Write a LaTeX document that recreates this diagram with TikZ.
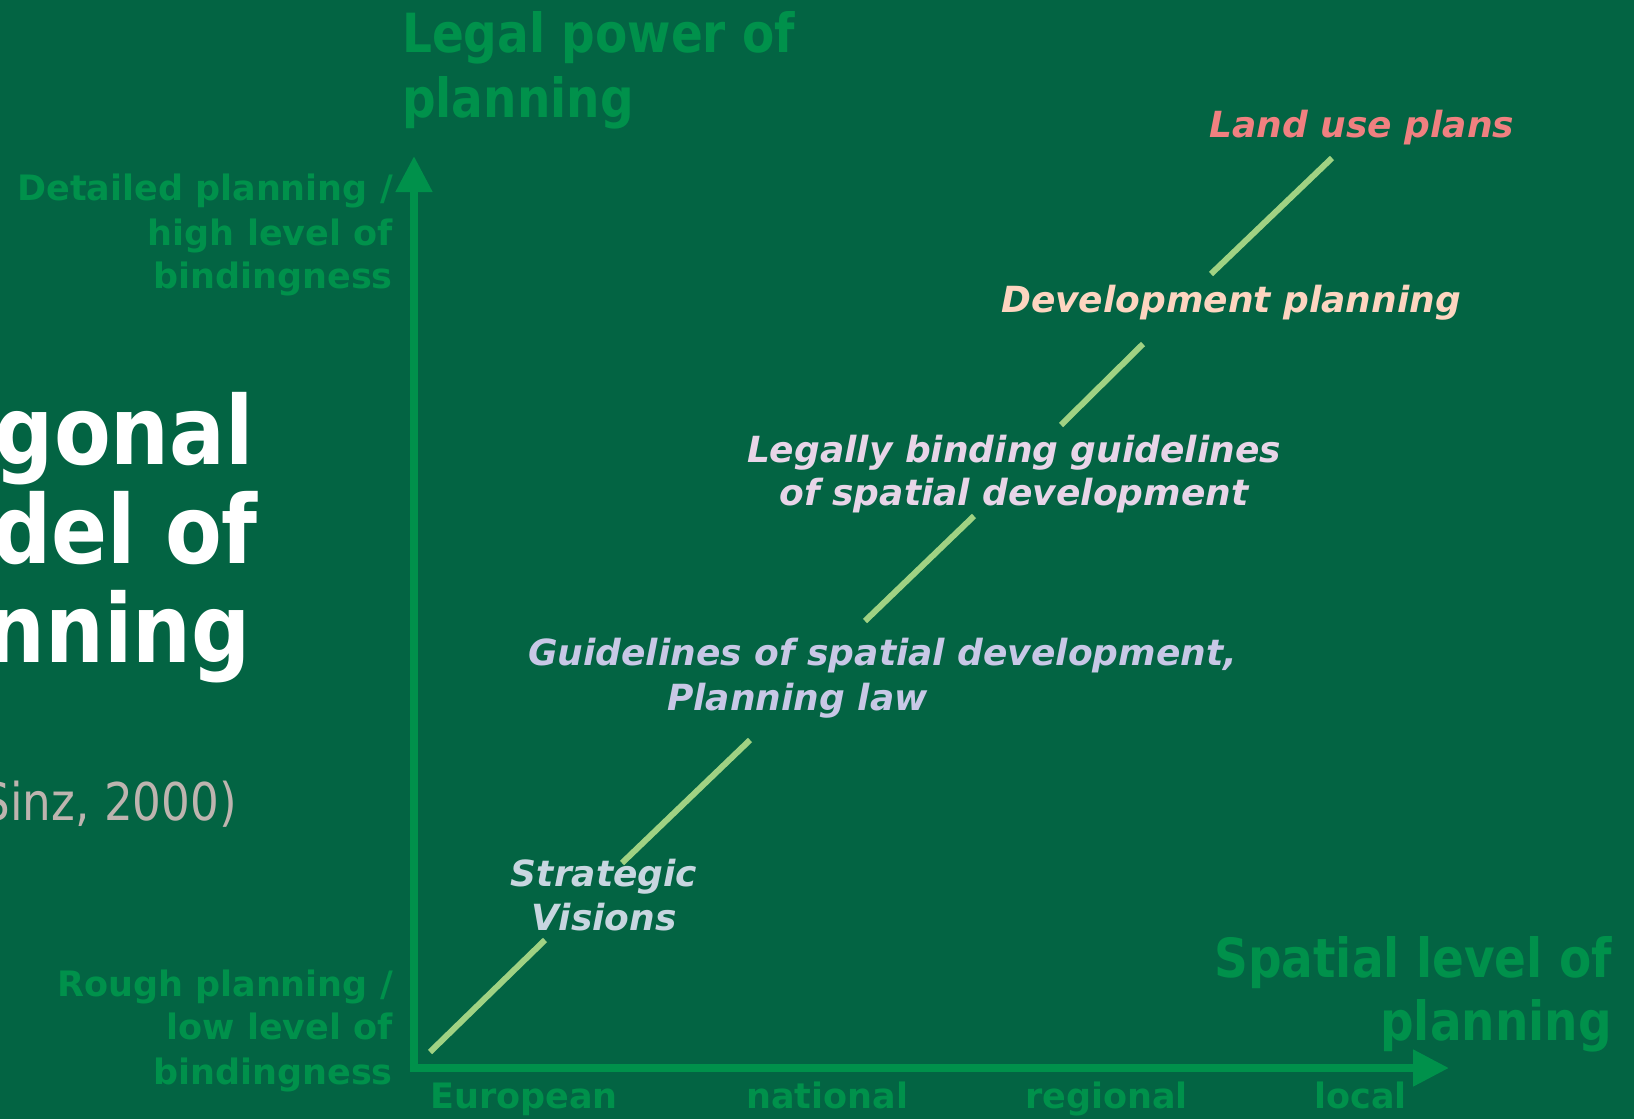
\documentclass[tikz,border=0pt]{standalone}
\usepackage{fontspec}
\setmainfont{DejaVu Sans}
\newfontfamily\tah[FakeStretch=0.87]{DejaVu Sans}
\usetikzlibrary{arrows.meta}
\definecolor{bg}{HTML}{036443}
\definecolor{axisgreen}{HTML}{00914B}
\definecolor{diag}{HTML}{A0D283}
\definecolor{salmon}{HTML}{F08080}
\definecolor{peach}{HTML}{FDD5C0}
\definecolor{pinkish}{HTML}{E8D5E8}
\definecolor{lavender}{HTML}{C8C8E6}
\definecolor{bluegray}{HTML}{C8D6E0}
\definecolor{sinzgray}{HTML}{BEB4AF}
\tikzset{
  axistitle/.style={text=axisgreen, inner sep=0pt, font=\tah\bfseries\fontsize{54pt}{60pt}\selectfont},
  sidelabel/.style={text=axisgreen, inner sep=0pt, font=\bfseries\fontsize{35pt}{42pt}\selectfont},
  stagelabel/.style={inner sep=0pt, font=\bfseries\itshape\fontsize{36pt}{43pt}\selectfont},
  titletext/.style={text=white, inner sep=0pt, font=\tah\bfseries\fontsize{95pt}{99pt}\selectfont},
  sourcetext/.style={text=sinzgray, inner sep=0pt, font=\tah\fontsize{52pt}{60pt}\selectfont},
  axisline/.style={draw=axisgreen, line width=8pt, line join=miter,
    {Triangle[length=36pt,width=35pt]}-{Triangle[length=36pt,width=35pt]}},
  diagline/.style={draw=diag, line width=6pt, line cap=butt}
}
\begin{document}
\begin{tikzpicture}[x=1pt,y=-1pt]
\clip (0,0) rectangle (1634,1119);
\fill[bg] (0,0) rectangle (1634,1119);

% title (cut off at left edge)
\node[titletext, anchor=base east] (t1) at (254,464) {gonal};
\node[titletext, anchor=base east] (t2) at (258,563) {del of};
\node[titletext, anchor=base east] (t3) at (251,662) {nning};
\node[sourcetext, anchor=base east] (src) at (237,820) {Sinz, 2000)};

% axes
\coordinate (origin) at (414,1068);
\coordinate (ytip) at (414,156);
\coordinate (xtip) at (1449,1068);
\draw[axisline] (ytip) -- (origin) -- (xtip);

% axis titles
\node[axistitle, anchor=base west] (lp1) at (402,52) {Legal power of};
\node[axistitle, anchor=base west] (lp2) at (402,117) {planning};
\node[axistitle, anchor=base east] (sl1) at (1612,977) {Spatial level of};
\node[axistitle, anchor=base east] (sl2) at (1612,1040) {planning};

% y-axis extremes
\node[sidelabel, anchor=base east] (det1) at (393,200) {Detailed planning /};
\node[sidelabel, anchor=base east] (det2) at (393,245) {high level of};
\node[sidelabel, anchor=base east] (det3) at (393,288) {bindingness};
\node[sidelabel, anchor=base east] (rou1) at (393,996) {Rough planning /};
\node[sidelabel, anchor=base east] (rou2) at (393,1039) {low level of};
\node[sidelabel, anchor=base east] (rou3) at (393,1084) {bindingness};

% x-axis levels
\node[sidelabel, anchor=base west] (eu) at (430,1108) {European};
\node[sidelabel, anchor=base west] (nat) at (746,1108) {national};
\node[sidelabel, anchor=base west] (reg) at (1025,1108) {regional};
\node[sidelabel, anchor=base west] (loc) at (1314,1108) {local};

% stages
\node[stagelabel, text=salmon, anchor=base] (land) at (1362,137) {Land use plans};
\node[stagelabel, text=peach, anchor=base] (dev) at (1231,312) {Development planning};
\node[stagelabel, text=pinkish, anchor=base] (lb1) at (1014,462) {Legally binding guidelines};
\node[stagelabel, text=pinkish, anchor=base] (lb2) at (1014,505) {of spatial development};
\node[stagelabel, text=lavender, anchor=base west] (gl1) at (528,665) {Guidelines of spatial development,};
\node[stagelabel, text=lavender, anchor=base west] (gl2) at (667,710) {Planning law};
\node[stagelabel, text=bluegray, anchor=base] (sv1) at (604,886) {Strategic};
\node[stagelabel, text=bluegray, anchor=base] (sv2) at (604,930) {Visions};

% diagonal connectors
\coordinate (d1a) at (430,1052); \coordinate (d1b) at (545,940);
\coordinate (d2a) at (622,863);  \coordinate (d2b) at (750,740);
\coordinate (d3a) at (865,621);  \coordinate (d3b) at (974,516);
\coordinate (d4a) at (1061,425); \coordinate (d4b) at (1143,344);
\coordinate (d5a) at (1211,274); \coordinate (d5b) at (1332,158);
\draw[diagline] (d1a) -- (d1b);
\draw[diagline] (d2a) -- (d2b);
\draw[diagline] (d3a) -- (d3b);
\draw[diagline] (d4a) -- (d4b);
\draw[diagline] (d5a) -- (d5b);
\end{tikzpicture}
\end{document}
